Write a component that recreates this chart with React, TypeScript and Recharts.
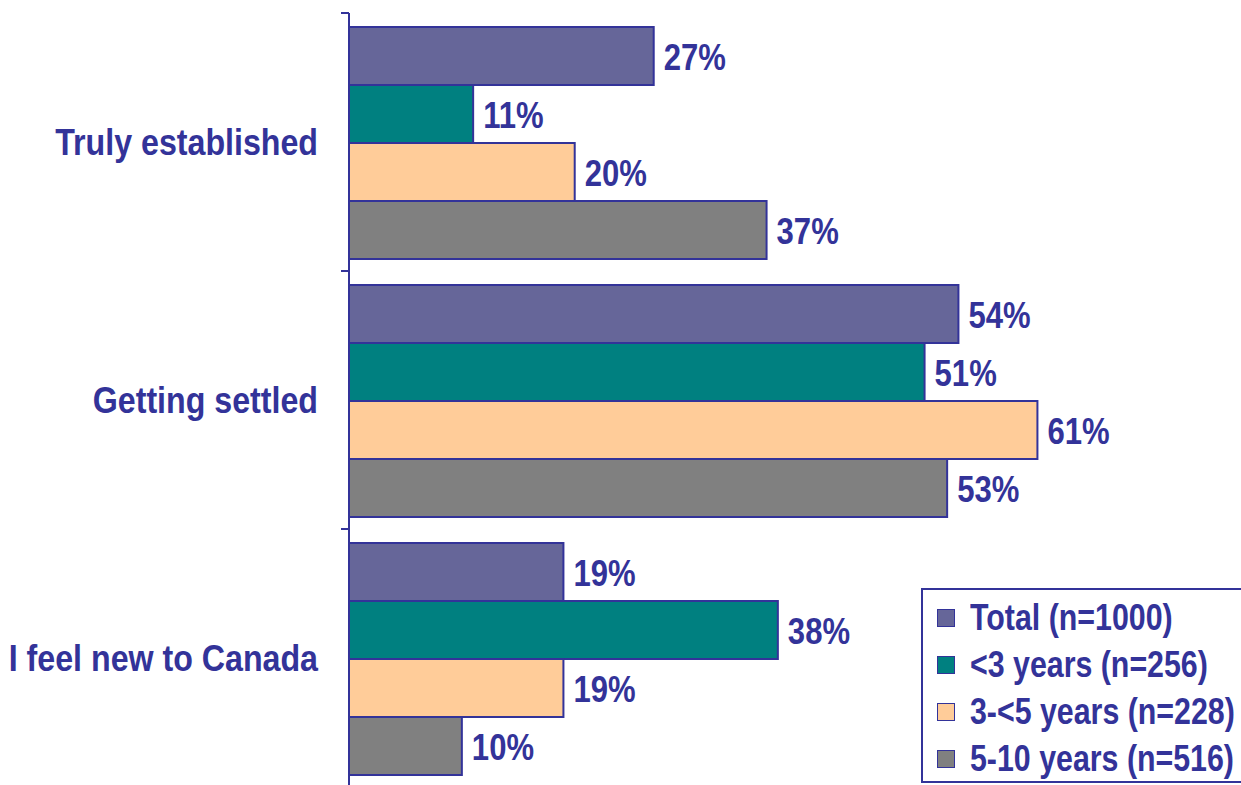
import React from "react";
import { BarChart, Bar, XAxis, YAxis, LabelList, Legend } from "recharts";

const categories = ["Truly established", "Getting settled", "I feel new to Canada"];
const totalValues = [27, 54, 19];
const under3Values = [11, 51, 38];
const from3to5Values = [20, 61, 19];
const from5to10Values = [37, 53, 10];
const seriesNames = ["Total (n=1000)", "<3 years (n=256)", "3-<5 years (n=228)", "5-10 years (n=516)"];
const seriesColors = ["#666699", "#008080", "#FFCC99", "#808080"];

const NAVY = "#333399";
const FONT = "'Liberation Sans', Arial, sans-serif";
const SQUEEZE = 0.84;
const CHART_H = 787;
const MARGIN = { top: 13, right: 102, left: 348, bottom: 0 };
const BAND = (CHART_H - MARGIN.top - MARGIN.bottom) / categories.length;

const data = categories.map((name, i) => ({
  name,
  total: totalValues[i],
  under3: under3Values[i],
  from3to5: from3to5Values[i],
  from5to10: from5to10Values[i],
}));

const keys = ["total", "under3", "from3to5", "from5to10"];

// category label + short tick marks at the band edges
const CategoryTick = (props: any) => {
  const { x, y, payload } = props;
  const half = BAND / 2;
  return (
    <g>
      <line x1={x - 8} x2={x} y1={y - half} y2={y - half} stroke={NAVY} strokeWidth={2} />
      <line x1={x - 8} x2={x} y1={y + half} y2={y + half} stroke={NAVY} strokeWidth={2} />
      <text
        transform={`translate(${x - 31},${y}) scale(0.87,1)`}
        textAnchor="end"
        dominantBaseline="central"
        fill={NAVY}
        fontFamily={FONT}
        fontWeight="bold"
        fontSize={37}
      >
        {payload.value}
      </text>
    </g>
  );
};

const ValueLabel = (props: any) => {
  const { x, y, width, height, value } = props;
  return (
    <text
      transform={`translate(${x + width + 10},${y + height / 2 + 1}) scale(${SQUEEZE},1)`}
      textAnchor="start"
      dominantBaseline="central"
      fill={NAVY}
      fontFamily={FONT}
      fontWeight="bold"
      fontSize={37}
    >
      {`${value}%`}
    </text>
  );
};

const renderLegend = () => (
  <div
    style={{
      border: `2px solid ${NAVY}`,
      width: 340,
      height: 195,
      boxSizing: "border-box",
      background: "#fff",
      paddingTop: 4,
      paddingLeft: 14,
    }}
  >
    {seriesNames.map((n, i) => (
      <div key={n} style={{ display: "flex", alignItems: "center", height: 47 }}>
        <span
          style={{
            width: 16,
            height: 16,
            flex: "0 0 auto",
            background: seriesColors[i],
            border: `1.5px solid ${NAVY}`,
            marginRight: 15,
            display: "inline-block",
          }}
        />
        <span
          style={{
            color: NAVY,
            fontFamily: FONT,
            fontWeight: "bold",
            fontSize: 37,
            whiteSpace: "nowrap",
            display: "inline-block",
            transform: "scaleX(0.82)",
            transformOrigin: "left center",
          }}
        >
          {n}
        </span>
      </div>
    ))}
  </div>
);

export default function App() {
  return (
    <div style={{ position: "absolute", left: 0, top: 0, width: 1241, height: 785, overflow: "hidden", background: "#fff" }}>
      <BarChart
        width={1241}
        height={CHART_H}
        data={data}
        layout="vertical"
        margin={MARGIN}
        barCategoryGap={14}
        barGap={0}
      >
        <XAxis type="number" domain={[0, 70]} hide />
        <YAxis
          type="category"
          dataKey="name"
          width={1}
          axisLine={{ stroke: NAVY, strokeWidth: 2 }}
          tickLine={false}
          tickSize={0}
          tickMargin={0}
          tick={<CategoryTick />}
          interval={0}
        />
        <Legend
          content={renderLegend}
          layout="vertical"
          align="center"
          verticalAlign="middle"
          wrapperStyle={{ position: "absolute", left: 921, top: 588, width: 340 }}
        />
        {keys.map((k, i) => (
          <Bar
            key={k}
            dataKey={k}
            name={seriesNames[i]}
            fill={seriesColors[i]}
            stroke={NAVY}
            strokeWidth={2}
            isAnimationActive={false}
          >
            <LabelList dataKey={k} content={<ValueLabel />} />
          </Bar>
        ))}
      </BarChart>
    </div>
  );
}
